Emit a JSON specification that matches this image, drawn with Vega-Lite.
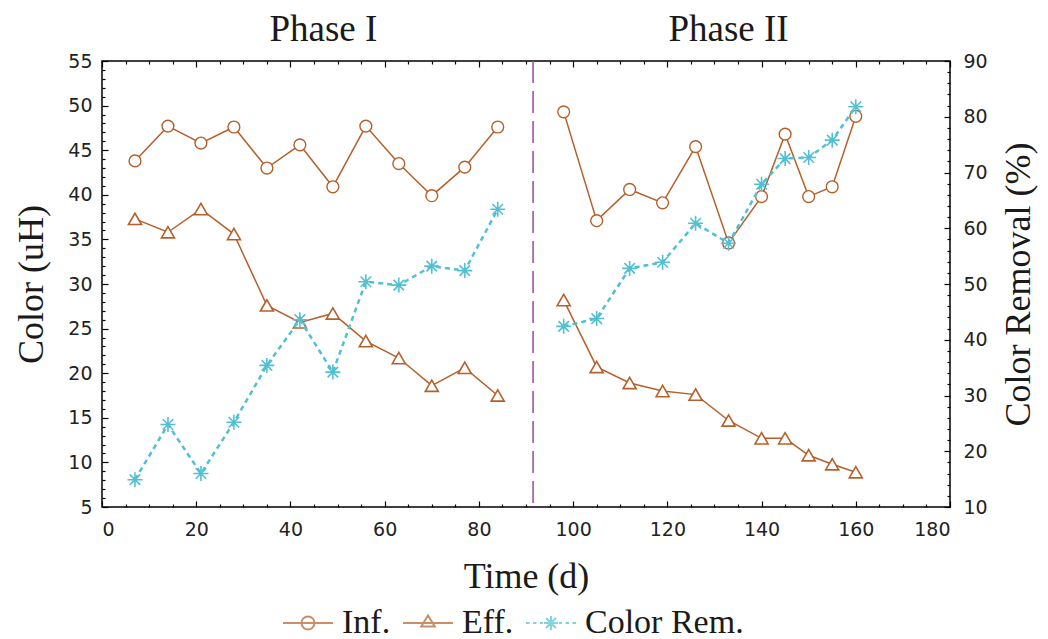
{
  "$schema": "https://vega.github.io/schema/vega-lite/v6.json",
  "width": 848,
  "height": 446,
  "autosize": {"type": "none"},
  "padding": {"left": 102, "top": 61, "right": 98, "bottom": 132},
  "background": "white",
  "datasets": {
    "inf": [
      {"day": 7, "value": 43.8, "phase": "I"}, {"day": 14, "value": 47.7, "phase": "I"},
      {"day": 21, "value": 45.8, "phase": "I"}, {"day": 28, "value": 47.6, "phase": "I"},
      {"day": 35, "value": 43.0, "phase": "I"}, {"day": 42, "value": 45.6, "phase": "I"},
      {"day": 49, "value": 40.9, "phase": "I"}, {"day": 56, "value": 47.7, "phase": "I"},
      {"day": 63, "value": 43.5, "phase": "I"}, {"day": 70, "value": 39.9, "phase": "I"},
      {"day": 77, "value": 43.1, "phase": "I"}, {"day": 84, "value": 47.6, "phase": "I"},
      {"day": 98, "value": 49.3, "phase": "II"}, {"day": 105, "value": 37.1, "phase": "II"},
      {"day": 112, "value": 40.6, "phase": "II"}, {"day": 119, "value": 39.1, "phase": "II"},
      {"day": 126, "value": 45.4, "phase": "II"}, {"day": 133, "value": 34.6, "phase": "II"},
      {"day": 140, "value": 39.8, "phase": "II"}, {"day": 145, "value": 46.8, "phase": "II"},
      {"day": 150, "value": 39.8, "phase": "II"}, {"day": 155, "value": 40.9, "phase": "II"},
      {"day": 160, "value": 48.8, "phase": "II"}
    ],
    "eff": [
      {"day": 7, "value": 37.3, "phase": "I"}, {"day": 14, "value": 35.8, "phase": "I"},
      {"day": 21, "value": 38.4, "phase": "I"}, {"day": 28, "value": 35.6, "phase": "I"},
      {"day": 35, "value": 27.6, "phase": "I"}, {"day": 42, "value": 25.7, "phase": "I"},
      {"day": 49, "value": 26.7, "phase": "I"}, {"day": 56, "value": 23.6, "phase": "I"},
      {"day": 63, "value": 21.7, "phase": "I"}, {"day": 70, "value": 18.6, "phase": "I"},
      {"day": 77, "value": 20.6, "phase": "I"}, {"day": 84, "value": 17.5, "phase": "I"},
      {"day": 98, "value": 28.2, "phase": "II"}, {"day": 105, "value": 20.7, "phase": "II"},
      {"day": 112, "value": 18.9, "phase": "II"}, {"day": 119, "value": 18.0, "phase": "II"},
      {"day": 126, "value": 17.6, "phase": "II"}, {"day": 133, "value": 14.7, "phase": "II"},
      {"day": 140, "value": 12.7, "phase": "II"}, {"day": 145, "value": 12.7, "phase": "II"},
      {"day": 150, "value": 10.8, "phase": "II"}, {"day": 155, "value": 9.8, "phase": "II"},
      {"day": 160, "value": 8.9, "phase": "II"}
    ],
    "rem": [
      {"day": 7, "value": 14.9, "phase": "I"}, {"day": 14, "value": 24.8, "phase": "I"},
      {"day": 21, "value": 16.0, "phase": "I"}, {"day": 28, "value": 25.2, "phase": "I"},
      {"day": 35, "value": 35.4, "phase": "I"}, {"day": 42, "value": 43.6, "phase": "I"},
      {"day": 49, "value": 34.2, "phase": "I"}, {"day": 56, "value": 50.4, "phase": "I"},
      {"day": 63, "value": 49.8, "phase": "I"}, {"day": 70, "value": 53.2, "phase": "I"},
      {"day": 77, "value": 52.4, "phase": "I"}, {"day": 84, "value": 63.4, "phase": "I"},
      {"day": 98, "value": 42.4, "phase": "II"}, {"day": 105, "value": 43.8, "phase": "II"},
      {"day": 112, "value": 52.8, "phase": "II"}, {"day": 119, "value": 53.9, "phase": "II"},
      {"day": 126, "value": 60.9, "phase": "II"}, {"day": 133, "value": 57.3, "phase": "II"},
      {"day": 140, "value": 67.9, "phase": "II"}, {"day": 145, "value": 72.5, "phase": "II"},
      {"day": 150, "value": 72.7, "phase": "II"}, {"day": 155, "value": 75.8, "phase": "II"},
      {"day": 160, "value": 81.8, "phase": "II"}
    ],
    "phases": [
      {"day": 47, "label": "Phase I"},
      {"day": 133, "label": "Phase II"}
    ],
    "divider": [{"day": 91.5}]
  },
  "layer": [
    {
      "data": {"name": "inf"},
      "mark": {"type": "line", "color": "#b5602b", "strokeWidth": 1.5},
      "encoding": {
        "x": {"field": "day", "type": "quantitative", "scale": {"domain": [0, 180], "nice": false, "zero": false},
          "axis": {"orient": "bottom", "values": [0, 20, 40, 60, 80, 100, 120, 140, 160, 180], "tickSize": -6, "labelPadding": 19, "title": "Time (d)", "titlePadding": 20}},
        "y": {"field": "value", "type": "quantitative", "scale": {"domain": [5, 55], "nice": false, "zero": false},
          "axis": {"orient": "left", "values": [5, 10, 15, 20, 25, 30, 35, 40, 45, 50, 55], "tickSize": -6, "labelPadding": 16, "title": "Color (uH)", "titlePadding": 17}},
        "detail": {"field": "phase"}
      }
    },
    {
      "data": {"name": "inf"},
      "mark": {"type": "point", "shape": "circle", "size": 140, "filled": true, "fill": "white", "stroke": "#b5602b", "strokeWidth": 1.4, "opacity": 1},
      "encoding": {
        "x": {"field": "day", "type": "quantitative",
          "axis": {"orient": "bottom", "values": [5, 10, 15, 25, 30, 35, 45, 50, 55, 65, 70, 75, 85, 90, 95, 105, 110, 115, 125, 130, 135, 145, 150, 155, 165, 170, 175], "tickSize": -3, "labels": false, "title": null}},
        "y": {"field": "value", "type": "quantitative", "scale": {"domain": [5, 55], "nice": false, "zero": false},
          "axis": {"orient": "left", "values": [6, 7, 8, 9, 11, 12, 13, 14, 16, 17, 18, 19, 21, 22, 23, 24, 26, 27, 28, 29, 31, 32, 33, 34, 36, 37, 38, 39, 41, 42, 43, 44, 46, 47, 48, 49, 51, 52, 53, 54], "tickSize": -3, "labels": false, "title": null}}
      }
    },
    {
      "data": {"name": "eff"},
      "mark": {"type": "line", "color": "#b5602b", "strokeWidth": 1.5},
      "encoding": {
        "x": {"field": "day", "type": "quantitative",
          "axis": {"orient": "top", "values": [0, 20, 40, 60, 80, 100, 120, 140, 160, 180], "tickSize": -6, "labels": false, "title": null}},
        "y": {"field": "value", "type": "quantitative", "scale": {"domain": [5, 55], "nice": false, "zero": false}, "axis": null},
        "detail": {"field": "phase"}
      }
    },
    {
      "data": {"name": "eff"},
      "mark": {"type": "point", "shape": "triangle-up", "size": 170, "filled": true, "fill": "white", "stroke": "#b5602b", "strokeWidth": 1.6, "opacity": 1},
      "encoding": {
        "x": {"field": "day", "type": "quantitative",
          "axis": {"orient": "top", "values": [5, 10, 15, 25, 30, 35, 45, 50, 55, 65, 70, 75, 85, 90, 95, 105, 110, 115, 125, 130, 135, 145, 150, 155, 165, 170, 175], "tickSize": -3, "labels": false, "title": null}},
        "y": {"field": "value", "type": "quantitative", "scale": {"domain": [5, 55], "nice": false, "zero": false}, "axis": null}
      }
    },
    {
      "data": {"name": "rem"},
      "mark": {"type": "line", "color": "#52c0d2", "strokeWidth": 2.5, "strokeDash": [5, 4]},
      "encoding": {
        "x": {"field": "day", "type": "quantitative", "axis": null},
        "y": {"field": "value", "type": "quantitative", "scale": {"domain": [10, 90], "nice": false, "zero": false},
          "axis": {"orient": "right", "values": [10, 20, 30, 40, 50, 60, 70, 80, 90], "tickSize": -6, "labelPadding": 19, "title": "Color Removal (%)", "titleAngle": 270, "titleBaseline": "top", "titlePadding": 14}},
        "detail": {"field": "phase"}
      }
    },
    {
      "data": {"name": "rem"},
      "mark": {"type": "point", "shape": "M-1,0L1,0M0,-1L0,1M-0.7,-0.7L0.7,0.7M-0.7,0.7L0.7,-0.7", "size": 225, "filled": false, "stroke": "#52c0d2", "strokeWidth": 1.6, "opacity": 1},
      "encoding": {
        "x": {"field": "day", "type": "quantitative", "axis": null},
        "y": {"field": "value", "type": "quantitative", "scale": {"domain": [10, 90], "nice": false, "zero": false},
          "axis": {"orient": "right", "values": [12, 14, 16, 18, 22, 24, 26, 28, 32, 34, 36, 38, 42, 44, 46, 48, 52, 54, 56, 58, 62, 64, 66, 68, 72, 74, 76, 78, 82, 84, 86, 88], "tickSize": -3, "labels": false, "title": null}}
      }
    },
    {
      "data": {"name": "divider"},
      "mark": {"type": "rule", "color": "#a055a0", "strokeWidth": 1.6, "strokeDash": [22, 8]},
      "encoding": {
        "x": {"field": "day", "type": "quantitative", "axis": null}
      }
    },
    {
      "data": {"name": "phases"},
      "mark": {"type": "text", "font": "Liberation Serif", "fontSize": 37, "color": "#1a1a1a", "baseline": "alphabetic", "dy": -20, "clip": false},
      "encoding": {
        "x": {"field": "day", "type": "quantitative", "axis": null},
        "y": {"datum": 55, "type": "quantitative", "scale": {"domain": [5, 55], "nice": false, "zero": false}, "axis": null},
        "text": {"field": "label"}
      }
    },
    {
      "data": {"values": []},
      "mark": {"type": "point", "filled": false},
      "encoding": {
        "color": {"field": "series", "type": "nominal",
          "scale": {"domain": ["Inf.", "Eff.", "Color Rem."], "range": ["#b5602b", "#b5602b", "#52c0d2"]},
          "legend": {"title": null, "orient": "none", "legendX": 180, "legendY": 536, "direction": "horizontal", "symbolSize": 2500, "symbolStrokeWidth": 2, "labelFont": "Liberation Serif", "labelFontSize": 34, "labelColor": "#1a1a1a", "labelOffset": 8, "columnPadding": 8}},
        "shape": {"field": "series", "type": "nominal",
          "scale": {"domain": ["Inf.", "Eff.", "Color Rem."], "range": [
            "M-1,0L1,0M-0.26,0A0.26,0.26,0,1,1,0.26,0A0.26,0.26,0,1,1,-0.26,0",
            "M-1,0L1,0M0,-0.3L-0.27,0.14L0.27,0.14Z",
            "M-1,0L-0.86,0M-0.72,0L-0.58,0M-0.44,0L-0.32,0M0.32,0L0.44,0M0.58,0L0.72,0M0.86,0L1,0M-0.28,0L0.28,0M0,-0.28L0,0.28M-0.2,-0.2L0.2,0.2M-0.2,0.2L0.2,-0.2"
          ]},
          "legend": {"title": null, "orient": "none", "legendX": 180, "legendY": 536, "direction": "horizontal", "symbolSize": 2500, "symbolStrokeWidth": 2, "labelFont": "Liberation Serif", "labelFontSize": 34, "labelColor": "#1a1a1a", "labelOffset": 8, "columnPadding": 8}}
      }
    }
  ],
  "resolve": {
    "scale": {"y": "independent"},
    "axis": {"x": "independent", "y": "independent"}
  },
  "config": {
    "view": {"stroke": "#000000", "strokeWidth": 1.5},
    "axis": {
      "domain": false,
      "grid": false,
      "ticks": true,
      "tickColor": "#000000",
      "tickWidth": 1.2,
      "labelFont": "DejaVu Sans",
      "labelFontSize": 19,
      "labelColor": "#222222",
      "titleFont": "Liberation Serif",
      "titleFontSize": 36,
      "titleFontWeight": "normal",
      "titleColor": "#1a1a1a"
    }
  }
}
